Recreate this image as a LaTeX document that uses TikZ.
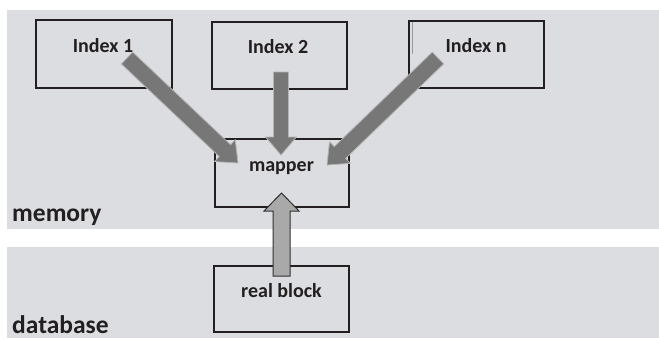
\documentclass[tikz,border=0pt]{standalone}
\usepackage{fontspec}
\setmainfont{Carlito}
\usetikzlibrary{calc}
\definecolor{band}{HTML}{DCDDE0}
\definecolor{boxline}{HTML}{231F20}
\definecolor{arrowfill}{HTML}{777777}
\definecolor{arrowedge}{HTML}{B4B4B4}
\definecolor{upfill}{HTML}{A9A9A9}
\definecolor{upedge}{HTML}{303030}
\tikzset{
  blockbox/.style={draw=boxline, line width=1.6pt, minimum width=#1, inner sep=0pt},
  lbl/.style={font=\bfseries\fontsize{20}{20}\selectfont, text=boxline, anchor=base, inner sep=0pt},
  layer/.style={font=\bfseries\fontsize{25.5}{25.5}\selectfont, text=boxline, anchor=base west, inner sep=0pt},
  downarrow/.style={fill=arrowfill, draw=arrowedge, line width=0.8pt, line join=miter},
  uparrow/.style={fill=upfill, draw=upedge, line width=1pt, line join=miter}
}
% fat block arrow: style, from, to, half shaft width, half head width, head length
\newcommand{\fatarrow}[6]{%
  \coordinate (hb) at ($(#3)!#6!(#2)$);
  \draw[#1] ($(#2)!#4!90:(#3)$) -- ($(hb)!#4!-90:(#2)$) -- ($(hb)!#5!-90:(#2)$)
    -- (#3) -- ($(hb)!#5!90:(#2)$) -- ($(hb)!#4!90:(#2)$) -- ($(#2)!#4!-90:(#3)$) -- cycle;
}
\begin{document}
\begin{tikzpicture}[x=1pt,y=-1pt]
\useasboundingbox (0,0) rectangle (659,338);
\fill[white] (0,0) rectangle (659,338);
% layers
\fill[band] (7,10) rectangle (659,229);
\fill[band] (7,247) rectangle (659,338);
\node[layer] (memlbl) at (12,221) {memory};
\node[layer] (dblbl) at (12,333) {database};
% boxes
\node[blockbox=136pt, minimum height=68pt] (i1) at (104,54) {};
\node[blockbox=135pt, minimum height=67pt] (i2) at (279.5,55.5) {};
\node[blockbox=135pt, minimum height=67pt] (in) at (476.5,54.5) {};
\node[blockbox=134pt, minimum height=68pt] (map) at (282,173) {};
\node[blockbox=135pt, minimum height=66pt] (real) at (281.5,299) {};
\draw[gray!80, line width=0.8pt] ([xshift=4pt,yshift=-2pt]in.north west) -- ([xshift=4pt,yshift=-34pt]in.north west);
% labels
\node[lbl] (t1) at (103,52) {Index 1};
\node[lbl] (t2) at (278,53) {Index 2};
\node[lbl] (tn) at (476,52) {Index n};
\node[lbl] (tm) at (281.5,171) {mapper};
\node[lbl] (tr) at (281.5,297) {real block};
% arrow ends
\coordinate (s1) at (127,58);
\coordinate (e1) at (238,163);
\coordinate (s2) at (281,72);
\coordinate (e2) at (281,155);
\coordinate (sn) at (438,58);
\coordinate (en) at (327,165);
\coordinate (sr) at ([yshift=-11pt]real.north);
\coordinate (er) at (281.5,193);
\fatarrow{downarrow}{s1}{e1}{8.2pt}{15pt}{18pt}
\fatarrow{downarrow}{s2}{e2}{7.5pt}{15.5pt}{18pt}
\fatarrow{downarrow}{sn}{en}{8.2pt}{15pt}{18pt}
\fatarrow{uparrow}{sr}{er}{8.5pt}{17.5pt}{18pt}
\end{tikzpicture}
\end{document}
